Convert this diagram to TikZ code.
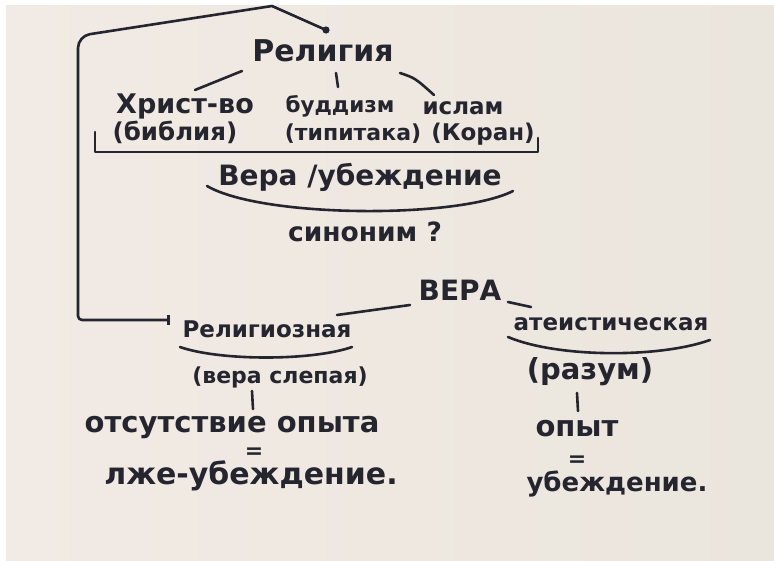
\documentclass[tikz,border=0pt]{standalone}
\usepackage{fontspec}
\setmainfont{DejaVu Sans}
\usetikzlibrary{arrows.meta}
\definecolor{ink}{HTML}{25252F}
\definecolor{paperL}{HTML}{F2EBE5}
\definecolor{paperR}{HTML}{EAE5DD}

\begin{document}
\begin{tikzpicture}[x=1pt,y=-1pt,
    every node/.style={text=ink,inner sep=0pt,anchor=base},
    hand/.style={font=\bfseries\fontsize{#1}{#1}\selectfont},
    stroke/.style={draw=ink,line width=2.6pt,line cap=round,line join=round}]
  %%%%% THE PAPER
  \useasboundingbox (0,0) rectangle (774,560);
  \fill[white] (0,0) rectangle (774,560);
  \shade[left color=paperL,right color=paperR] (6,5) rectangle (774,560);

  %%%%% THE RELIGIONS
  \node[hand=30] (religion) at (323,61) {Религия};
  \node[hand=27] (christ) at (185,113) {Христ-во};
  \node[hand=24.5] (bible) at (175,140) {(библия)};
  \node[hand=21.5] (buddhism) at (340,112) {буддизм};
  \node[hand=22] (tipitaka) at (353,140) {(типитака)};
  \node[hand=23] (islam) at (463,114) {ислам};
  \node[hand=23] (koran) at (483,140) {(Коран)};
  \node[hand=28] (belief) at (360,185) {Вера /убеждение};
  \node[hand=26.5] (synonym) at (365,241) {синоним ?};
  % links within the top tree
  \draw[stroke] ([shift={(-81,10)}]religion.base) -- ([shift={(10,-23)}]christ.base);
  \draw[stroke] ([shift={(13,12)}]religion.base) -- ([shift={(-2,-25)}]buddhism.base);
  \draw[stroke] ([shift={(77,12)}]religion.base) .. controls +(15,5) .. ([shift={(-29,-19)}]islam.base);
  \draw[stroke] ([shift={(-80,-8)}]bible.base) |- ([shift={(55,12)}]koran.base) -- ([shift={(55,-2)}]koran.base);
  \draw[stroke] ([shift={(-153,1)}]belief.base) .. controls +(55,32) and +(-55,28) .. ([shift={(153,6)}]belief.base);

  %%%%% THE TWO KINDS OF FAITH
  \node[hand=28] (faith) at (460,300) {ВЕРА};
  \node[hand=23] (religious) at (267,337) {Религиозная};
  \node[hand=22] (blind) at (280,383) {(вера слепая)};
  \node[hand=29] (absence) at (232,432) {отсутствие опыта};
  \node[hand=22] (eqL) at (254,458) {=};
  \node[hand=30] (pseudo) at (251,484) {лже-убеждение.};
  \node[hand=23] (atheist) at (611,330) {атеистическая};
  \node[hand=29] (reason) at (590,379) {(разум)};
  \node[hand=29] (experience) at (577,436) {опыт};
  \node[hand=22] (eqR) at (577,466) {=};
  \node[hand=26] (conviction) at (617,491) {убеждение.};
  % links within the bottom tree
  \draw[stroke] ([shift={(70,-22)}]religious.base) -- ([shift={(-50,5)}]faith.base);
  \draw[stroke] ([shift={(48,2)}]faith.base) -- ([shift={(-80,-23)}]atheist.base);
  \draw[stroke] ([shift={(-87,10)}]religious.base) .. controls +(40,14) and +(-40,14) .. ([shift={(85,10)}]religious.base);
  \draw[stroke] ([shift={(-103,7)}]atheist.base) .. controls +(50,21) and +(-50,18) .. ([shift={(99,10)}]atheist.base);
  \draw[stroke] ([shift={(-28,8)}]blind.base) -- ([shift={(21,-23)}]absence.base);
  \draw[stroke] ([shift={(-13,14)}]reason.base) -- ([shift={(1,-25)}]experience.base);

  %%%%% LINK FROM RELIGION TO RELIGIOUS FAITH
  \coordinate (dot) at ([shift={(3,-31)}]religion.base);
  \fill[ink] (dot) circle (3.6);
  \draw[stroke,-{Bar[width=10pt,line width=2.6pt]}] (dot) -- (272,6)
    [rounded corners=12pt] -- (78,36) [rounded corners=4pt] -- (78,320)
    -- ([shift={(-97,-17)}]religious.base);
\end{tikzpicture}
\end{document}
